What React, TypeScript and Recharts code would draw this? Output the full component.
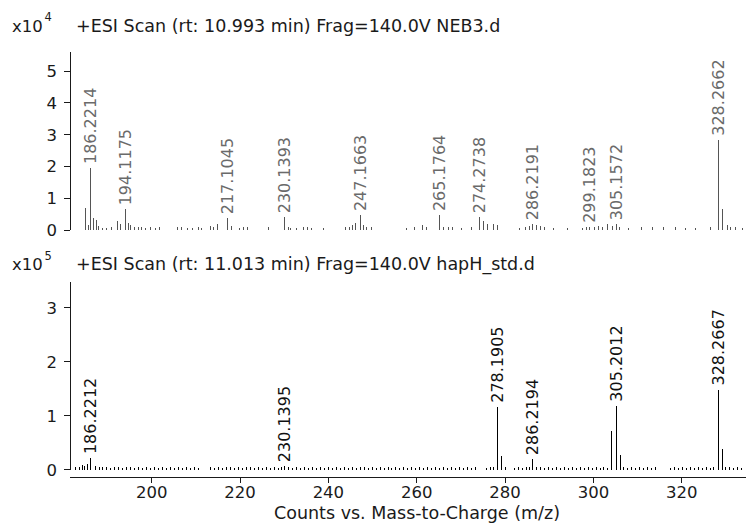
import React from "react";
import { LineChart, Line, XAxis, YAxis, LabelList, Label } from "recharts";

const FONT = "'DejaVu Sans', sans-serif";
const MZ_DOMAIN: [number, number] = [181.5, 334.55];
const MZ_TICKS = [200, 220, 240, 260, 280, 300, 320];
const TOP_Y_TICKS = [0, 1, 2, 3, 4, 5];
const BOT_Y_TICKS = [0, 1, 2, 3];

const topTitle = "+ESI Scan (rt: 10.993 min) Frag=140.0V NEB3.d";
const botTitle = "+ESI Scan (rt: 11.013 min) Frag=140.0V hapH_std.d";
const topExp = "4";
const botExp = "5";
const xAxisTitle = "Counts vs. Mass-to-Charge (m/z)";

// Labeled peaks (counts in units of 10^4 for top, 10^5 for bottom)
const topPeakMz = [186.2214, 194.1175, 217.1045, 230.1393, 247.1663, 265.1764, 274.2738, 286.2191, 299.1823, 305.1572, 328.2662];
const topPeakCounts = [1.95, 0.65, 0.37, 0.4, 0.47, 0.47, 0.4, 0.18, 0.1, 0.18, 2.84];

const botPeakMz = [186.2212, 230.1395, 278.1905, 286.2194, 305.2012, 328.2667];
const botPeakCounts = [0.22, 0.07, 1.17, 0.2, 1.19, 1.49];

// Unlabeled peaks [m/z, counts]
const topMinor: [number, number][] = [
  [185.1, 0.68], [185.6, 0.15], [186.9, 0.38], [187.4, 0.3], [187.9, 0.12], [188.9, 0.05], [189.7, 0.05],
  [190.8, 0.08], [192.3, 0.28], [193.0, 0.18], [194.7, 0.22], [195.2, 0.15], [196.0, 0.1], [196.9, 0.09],
  [197.8, 0.08], [198.7, 0.06], [199.7, 0.08], [200.8, 0.07], [201.7, 0.09], [205.9, 0.1], [206.8, 0.08],
  [208.2, 0.06], [209.2, 0.07], [210.5, 0.08], [211.3, 0.06], [213.3, 0.13], [214.0, 0.1], [215.0, 0.2],
  [218.1, 0.12], [219.9, 0.05], [220.7, 0.1], [221.6, 0.08], [226.5, 0.08], [230.9, 0.1], [231.5, 0.05],
  [232.7, 0.05], [234.3, 0.08], [235.2, 0.1], [236.1, 0.06], [238.8, 0.06], [243.9, 0.1], [244.7, 0.1],
  [245.5, 0.15], [246.2, 0.22], [247.9, 0.15], [248.7, 0.1], [249.8, 0.1], [257.7, 0.06], [259.5, 0.08],
  [261.3, 0.15], [262.3, 0.08], [266.1, 0.1], [267.3, 0.1], [268.2, 0.08], [270.2, 0.06], [272.4, 0.1],
  [275.2, 0.28], [276.0, 0.2], [277.3, 0.2], [278.3, 0.15], [283.3, 0.06], [284.7, 0.1], [285.5, 0.12],
  [287.1, 0.15], [288.0, 0.12], [288.9, 0.08], [290.9, 0.05], [294.1, 0.05], [297.6, 0.06], [298.5, 0.1],
  [300.3, 0.1], [301.2, 0.12], [302.1, 0.1], [303.3, 0.18], [304.3, 0.12], [306.0, 0.08], [307.9, 0.05],
  [310.9, 0.08], [313.4, 0.1], [315.9, 0.08], [318.6, 0.08], [320.9, 0.06], [323.1, 0.06], [326.5, 0.08],
  [329.27, 0.65], [330.3, 0.15], [331.0, 0.1], [332.2, 0.08], [333.8, 0.06],
];

const botMinor: [number, number][] = [
  [182.8, 0.05], [183.6, 0.06], [184.3, 0.1], [184.8, 0.08], [185.4, 0.12], [187.2, 0.08], [188.1, 0.06],
  [188.9, 0.05], [189.8, 0.06], [190.7, 0.04], [191.6, 0.05], [192.5, 0.06], [193.4, 0.04], [194.3, 0.05],
  [195.2, 0.05], [196.1, 0.04], [197.0, 0.05], [197.9, 0.04], [198.8, 0.05], [199.7, 0.04], [200.6, 0.05],
  [201.5, 0.04], [202.4, 0.05], [203.3, 0.04], [204.2, 0.05], [205.1, 0.04], [206.0, 0.05], [206.9, 0.04],
  [207.8, 0.05], [208.7, 0.04], [209.6, 0.05], [210.5, 0.04], [213.3, 0.05], [214.2, 0.04], [215.1, 0.05],
  [216.0, 0.04], [216.9, 0.05], [217.8, 0.05], [218.7, 0.04], [219.6, 0.05], [220.5, 0.04], [221.4, 0.05],
  [222.3, 0.05], [223.2, 0.04], [224.1, 0.05], [225.0, 0.04], [225.9, 0.05], [226.8, 0.04], [227.7, 0.05],
  [228.6, 0.04], [229.4, 0.05], [231.0, 0.05], [231.9, 0.04], [232.8, 0.05], [233.7, 0.04], [234.6, 0.05],
  [235.5, 0.04], [236.4, 0.05], [237.3, 0.04], [238.2, 0.05], [239.1, 0.04], [240.0, 0.05], [240.9, 0.04],
  [241.8, 0.05], [242.7, 0.04], [243.6, 0.05], [244.5, 0.04], [245.4, 0.05], [246.3, 0.04], [247.2, 0.05],
  [248.1, 0.05], [249.0, 0.04], [249.9, 0.05], [250.8, 0.04], [251.7, 0.05], [252.6, 0.04], [253.5, 0.05],
  [254.4, 0.04], [255.3, 0.05], [256.2, 0.04], [257.1, 0.05], [258.0, 0.04], [258.9, 0.05], [259.8, 0.04],
  [260.7, 0.05], [261.6, 0.04], [262.5, 0.05], [263.4, 0.04], [264.3, 0.05], [265.2, 0.04], [266.1, 0.05],
  [267.0, 0.04], [267.9, 0.05], [268.8, 0.04], [269.7, 0.05], [270.6, 0.04], [271.5, 0.05], [272.4, 0.04],
  [273.3, 0.05], [275.8, 0.04], [276.7, 0.05], [277.3, 0.06], [279.19, 0.26], [280.2, 0.05], [282.1, 0.04],
  [283.0, 0.05], [283.9, 0.04], [284.8, 0.05], [285.5, 0.06], [287.1, 0.05], [288.0, 0.06], [288.9, 0.04],
  [289.8, 0.05], [290.7, 0.04], [291.6, 0.05], [292.5, 0.04], [293.4, 0.05], [294.3, 0.04], [295.2, 0.05],
  [296.1, 0.04], [297.0, 0.05], [297.9, 0.04], [298.8, 0.05], [299.7, 0.04], [300.6, 0.05], [301.5, 0.04],
  [302.4, 0.05], [303.3, 0.04], [304.2, 0.73], [306.2, 0.28], [306.9, 0.05], [307.8, 0.04], [308.7, 0.05],
  [309.6, 0.04], [310.5, 0.05], [311.4, 0.04], [312.3, 0.05], [313.2, 0.04], [314.1, 0.05], [317.4, 0.04],
  [318.3, 0.05], [319.2, 0.04], [320.1, 0.05], [321.0, 0.04], [321.9, 0.05], [322.8, 0.04], [323.7, 0.05],
  [324.6, 0.04], [325.5, 0.05], [326.4, 0.04], [327.3, 0.05], [329.27, 0.39], [330.0, 0.06], [330.9, 0.05],
  [331.8, 0.04], [332.7, 0.05], [333.6, 0.04],
];

type Pt = { mz: number; v: number | null; lbl?: string };

function buildSticks(peakMz: number[], peakCounts: number[], minor: [number, number][]): Pt[] {
  const all = [
    ...peakMz.map((m, i) => ({ mz: m, v: peakCounts[i], lbl: m.toFixed(4) })),
    ...minor.map(([m, v]) => ({ mz: m, v, lbl: undefined as string | undefined })),
  ].sort((a, b) => a.mz - b.mz);
  const pts: Pt[] = [];
  for (const p of all) {
    pts.push({ mz: p.mz, v: 0 });
    pts.push({ mz: p.mz, v: p.v, lbl: p.lbl });
    pts.push({ mz: p.mz, v: null });
  }
  return pts;
}

const topData = buildSticks(topPeakMz, topPeakCounts, topMinor);
const botData = buildSticks(botPeakMz, botPeakCounts, botMinor);

const makeLabel = (color: string, size: number) => (props: any) => {
  const vb = props.viewBox || {};
  const x = props.x ?? vb.x;
  const y = props.y ?? vb.y;
  const value = props.value;
  if (value === undefined || value === null || value === "" || x == null || y == null || isNaN(y)) return null;
  const ty = y - 4;
  return (
    <text
      x={x}
      y={ty}
      transform={`rotate(-90 ${x} ${ty})`}
      fill={color}
      fontSize={size}
      fontFamily={FONT}
      textAnchor="start"
      dominantBaseline="central"
    >
      {value}
    </text>
  );
};

const AXIS = "#1a1a1a";
const tickStyle = { fontSize: 16.5, fill: "#1a1a1a", fontFamily: FONT };

export default function App() {
  return (
    <div style={{ position: "absolute", left: 0, top: 0, width: 746, height: 529, background: "#fff", overflow: "hidden" }}>
      <style>{`.crisp .recharts-line-curve, .crisp .recharts-cartesian-axis-line, .crisp .recharts-cartesian-axis-tick-line { shape-rendering: crispEdges; }`}</style>
      <div className="crisp" style={{ position: "absolute", left: 0, top: 0 }}>
        <LineChart width={746} height={240} data={topData} margin={{ top: 52, right: 0, bottom: 10, left: 0 }}>
          <XAxis dataKey="mz" type="number" domain={MZ_DOMAIN} allowDataOverflow hide />
          <YAxis
            type="number"
            domain={[0, 5.6]}
            ticks={TOP_Y_TICKS}
            width={70}
            tickSize={6}
            tickMargin={7}
            axisLine={{ stroke: AXIS }}
            tickLine={{ stroke: AXIS }}
            tick={tickStyle}
            allowDataOverflow
          />
          <Line
            dataKey="v"
            type="linear"
            stroke="#555"
            strokeWidth={1}
            dot={false}
            activeDot={false}
            connectNulls={false}
            isAnimationActive={false}
          >
            <LabelList dataKey="lbl" content={makeLabel("#6a6a6a", 16)} />
          </Line>
        </LineChart>
      </div>
      <div className="crisp" style={{ position: "absolute", left: 0, top: 250 }}>
        <LineChart width={746} height={279} data={botData} margin={{ top: 32, right: 0, bottom: 0, left: 0 }}>
          <XAxis
            dataKey="mz"
            type="number"
            domain={MZ_DOMAIN}
            ticks={MZ_TICKS}
            allowDataOverflow
            height={52}
            tickSize={6}
            tickMargin={3}
            axisLine={{ stroke: AXIS }}
            tickLine={{ stroke: AXIS }}
            tick={tickStyle}
          >
            <Label value={xAxisTitle} position="insideBottom" offset={10} dx={9} style={{ fontSize: 17.5, fill: "#1a1a1a", fontFamily: FONT }} />
          </XAxis>
          <YAxis
            type="number"
            domain={[-0.13, 3.481]}
            ticks={BOT_Y_TICKS}
            width={70}
            tickSize={6}
            tickMargin={7}
            axisLine={{ stroke: AXIS, strokeDasharray: "188 40" }}
            tickLine={{ stroke: AXIS }}
            tick={tickStyle}
            allowDataOverflow
          />
          <Line
            dataKey="v"
            type="linear"
            stroke="#000"
            strokeWidth={1}
            dot={false}
            activeDot={false}
            connectNulls={false}
            isAnimationActive={false}
          >
            <LabelList dataKey="lbl" content={makeLabel("#111", 16)} />
          </Line>
        </LineChart>
      </div>
      <svg width={746} height={529} style={{ position: "absolute", left: 0, top: 0, pointerEvents: "none" }}>
        <g fontFamily={FONT} fill="#1a1a1a">
          <text x={12} y={31.5} fontSize={16.5}>x10</text>
          <text x={44.5} y={21} fontSize={11.5}>{topExp}</text>
          <text x={76} y={31.5} fontSize={17.5}>{topTitle}</text>
          <text x={12} y={270} fontSize={16.5}>x10</text>
          <text x={44.5} y={259.5} fontSize={11.5}>{botExp}</text>
          <text x={76} y={270} fontSize={17.5}>{botTitle}</text>
        </g>
      </svg>
    </div>
  );
}
